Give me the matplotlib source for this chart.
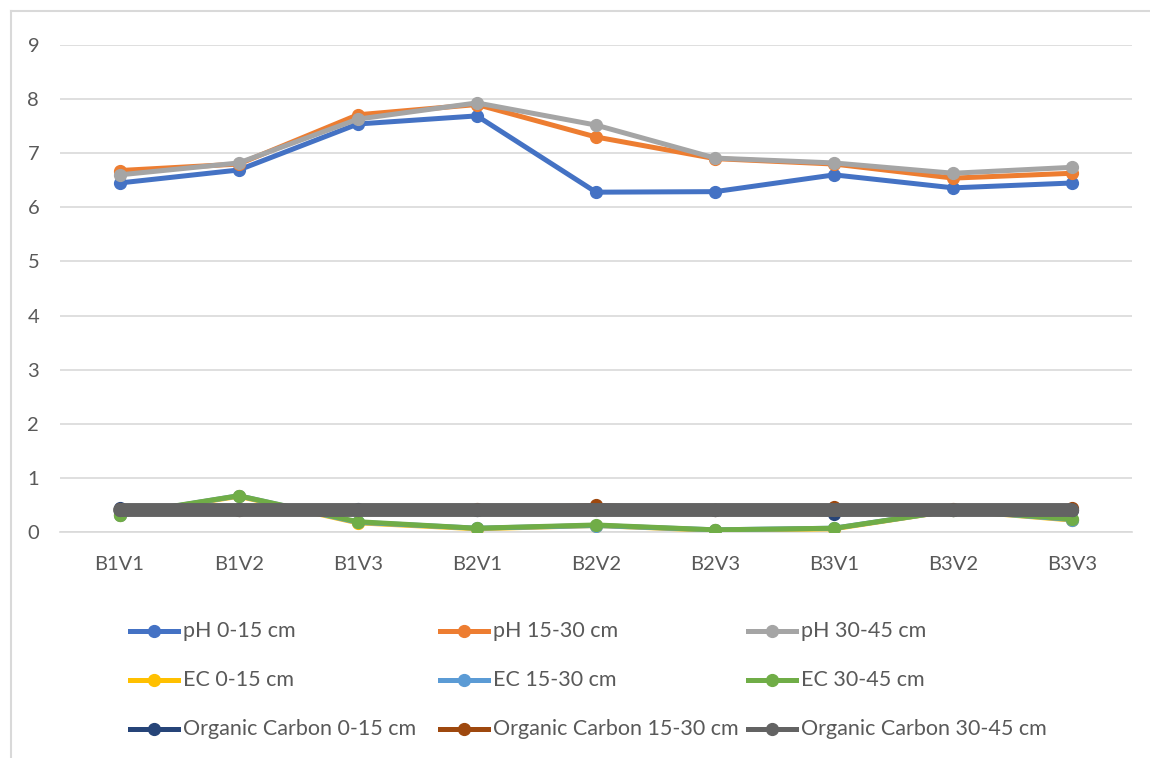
import matplotlib.pyplot as plt
from matplotlib.lines import Line2D

plt.rcParams['font.family'] = ['Lato', 'DejaVu Sans']

categories = ["B1V1", "B1V2", "B1V3", "B2V1", "B2V2", "B2V3", "B3V1", "B3V2", "B3V3"]

ph_0_15 = [6.45, 6.69, 7.54, 7.69, 6.28, 6.29, 6.60, 6.36, 6.45]
ph_15_30 = [6.68, 6.80, 7.71, 7.90, 7.30, 6.90, 6.80, 6.54, 6.63]
ph_30_45 = [6.60, 6.82, 7.63, 7.93, 7.52, 6.91, 6.82, 6.63, 6.74]

ec_0_15 = [0.31, 0.66, 0.17, 0.06, 0.12, 0.03, 0.06, 0.40, 0.22]
ec_15_30 = [0.31, 0.67, 0.18, 0.07, 0.12, 0.04, 0.07, 0.40, 0.23]
ec_30_45 = [0.32, 0.67, 0.19, 0.07, 0.13, 0.04, 0.07, 0.40, 0.24]

oc_0_15 = [0.44, 0.42, 0.43, 0.41, 0.42, 0.40, 0.33, 0.40, 0.41]
oc_15_30 = [0.42, 0.41, 0.40, 0.42, 0.49, 0.41, 0.47, 0.42, 0.44]
oc_30_45 = [0.41, 0.41, 0.41, 0.41, 0.41, 0.41, 0.41, 0.41, 0.41]

series = [
    ("pH 0-15 cm", ph_0_15, "#4472C4", 3.6),
    ("pH 15-30 cm", ph_15_30, "#ED7D31", 3.6),
    ("pH 30-45 cm", ph_30_45, "#A5A5A5", 3.6),
    ("EC 0-15 cm", ec_0_15, "#FFC000", 3.6),
    ("EC 15-30 cm", ec_15_30, "#5B9BD5", 3.6),
    ("EC 30-45 cm", ec_30_45, "#70AD47", 3.6),
    ("Organic Carbon 0-15 cm", oc_0_15, "#264478", 3.6),
    ("Organic Carbon 15-30 cm", oc_15_30, "#9E480E", 3.6),
    ("Organic Carbon 30-45 cm", oc_30_45, "#636363", 10),
]

W, H = 1150, 758
fig = plt.figure(figsize=(W / 100, H / 100), dpi=100)
fig.patch.set_facecolor("white")

# chart-area frame: top and left edges only
frame_kw = dict(transform=fig.transFigure, color="#d9d9d9", lw=1.5)
fig.add_artist(Line2D([11 / W, 1.0], [1 - 11 / H, 1 - 11 / H], **frame_kw))
fig.add_artist(Line2D([11 / W, 11 / W], [0.0, 1 - 11 / H], **frame_kw))

ax = fig.add_axes([60 / W, 1 - 532 / H, (1132 - 60) / W, (532 - 45) / H])

x = list(range(len(categories)))
for label, vals, color, lw in series:
    ax.plot(x, vals, color=color, lw=lw, marker="o", markersize=8.5,
            solid_capstyle="round", solid_joinstyle="round", zorder=3)

ax.set_xlim(-0.5, 8.5)
ax.set_ylim(0, 9)
ax.set_yticks(range(0, 10))
ax.set_xticks(x)
ax.set_xticklabels(categories)
ax.grid(axis="y", color="#d9d9d9", lw=1.2)
ax.set_axisbelow(True)
for s in ["top", "right", "left"]:
    ax.spines[s].set_visible(False)
ax.spines["bottom"].set_color("#d9d9d9")
ax.spines["bottom"].set_linewidth(1.2)
ax.tick_params(axis="both", length=0, labelsize=14.5, labelcolor="#595959")
ax.tick_params(axis="x", pad=17)
ax.tick_params(axis="y", pad=15)

# legend laid out in a 3 x 3 grid below the plot
col_x = [130, 440, 748]
row_y = [631, 680, 729]
handle_len = 48
for i, (label, vals, color, lw) in enumerate(series):
    r, c = divmod(i, 3)
    x0 = col_x[c]
    yy = 1 - row_y[r] / H
    fig.add_artist(Line2D([x0 / W, (x0 + handle_len) / W], [yy, yy],
                          transform=fig.transFigure, color=color, lw=3.6))
    fig.add_artist(Line2D([(x0 + handle_len / 2) / W], [yy],
                          transform=fig.transFigure, color=color,
                          marker="o", markersize=8.5, lw=0))
    fig.text((x0 + handle_len + 5) / W, yy, label, fontsize=15.5,
             color="#595959", va="center", ha="left")

fig.savefig("out.png", dpi=100)
